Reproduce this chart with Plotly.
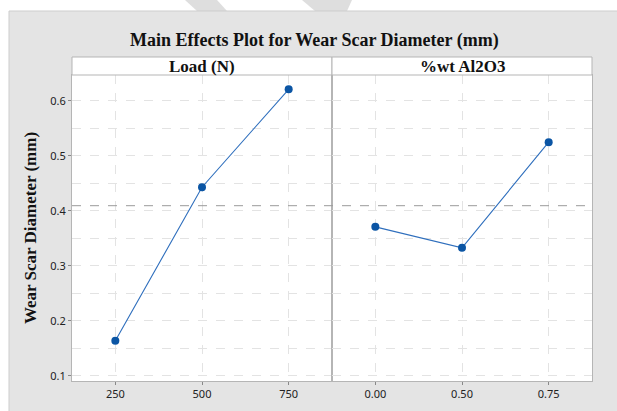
import numpy as np
import plotly.graph_objects as go
from plotly.subplots import make_subplots

# ---- data ----
load_levels = ["250", "500", "750"]
load_means = [0.164, 0.443, 0.621]
wt_levels = ["0.00", "0.50", "0.75"]
wt_means = [0.371, 0.333, 0.525]
y_ticks = [0.1, 0.2, 0.3, 0.4, 0.5, 0.6]
y_ticklabels = ["0.1", "0.2", "0.3", "0.4", "0.5", "0.6"]
panel_titles = ["Load (N)", "%wt Al2O3"]
grand_mean = float(np.mean(load_means + wt_means))

W, H = 617, 411
ML, MR, MT, MB = 72, 25, 75, 30
PW, PH = W - ML - MR, H - MT - MB

def px_x(px):
    return (px - ML) / PW

def px_y(py):
    return (H - MB - py) / PH

line_col = "#2f6fbd"
mark_col = "#0b55a4"
grid_col = "#e3e3e3"
border_col = "#b5b5b5"
serif = "Liberation Serif"
sans = "Noto Sans"

fig = make_subplots(rows=1, cols=2, shared_yaxes=True, horizontal_spacing=0)

for col, (lv, mv) in enumerate([(load_levels, load_means), (wt_levels, wt_means)], start=1):
    fig.add_trace(go.Scatter(
        x=lv, y=mv, mode="lines+markers",
        line=dict(color=line_col, width=1.1),
        marker=dict(color=mark_col, size=8),
        showlegend=False, hoverinfo="x+y"), row=1, col=col)

for col in (1, 2):
    fig.update_xaxes(type="category", range=[-0.5, 2.5],
                     showgrid=True, gridcolor=grid_col, griddash="dash", gridwidth=1,
                     showline=True, linecolor=border_col, linewidth=1, mirror=True,
                     ticks="outside", ticklen=3, tickcolor="#888888",
                     tickfont=dict(family=sans, size=11, color="#222222"),
                     zeroline=False, fixedrange=True, row=1, col=col)
    fig.update_yaxes(range=[0.0909, 0.647],
                     tickvals=y_ticks, ticktext=y_ticklabels,
                     showgrid=True, gridcolor=grid_col, griddash="dash", gridwidth=1,
                     minor=dict(dtick=0.05, tick0=0.05, showgrid=True, gridcolor=grid_col,
                                griddash="dash", ticks=""),
                     showline=True, linecolor=border_col, linewidth=1, mirror=True,
                     zeroline=False, fixedrange=True, row=1, col=col)

fig.update_yaxes(ticks="outside", ticklen=3, tickcolor="#888888",
                 tickfont=dict(family=sans, size=11, color="#222222"),
                 title=dict(text="<b>Wear Scar Diameter (mm)</b>",
                            font=dict(family=serif, size=17, color="#111111"),
                            standoff=9),
                 row=1, col=1)
fig.update_yaxes(ticks="", showticklabels=False, row=1, col=2)

shapes = []
# white area above/left of gray panel
shapes.append(dict(type="rect", xref="paper", yref="paper",
                   x0=px_x(0), x1=px_x(W), y0=px_y(11), y1=px_y(0),
                   fillcolor="white", line=dict(width=0), layer="below"))
shapes.append(dict(type="rect", xref="paper", yref="paper",
                   x0=px_x(0), x1=px_x(9), y0=px_y(H), y1=px_y(0),
                   fillcolor="white", line=dict(width=0), layer="below"))
# watermark fragments
shapes.append(dict(type="path", xref="paper", yref="paper",
                   path=f"M {px_x(185)},{px_y(0)} L {px_x(217)},{px_y(0)} L {px_x(227)},{px_y(11)} L {px_x(197)},{px_y(11)} Z",
                   fillcolor="#dedede", line=dict(width=0), layer="below"))
shapes.append(dict(type="path", xref="paper", yref="paper",
                   path=f"M {px_x(302)},{px_y(0)} L {px_x(352)},{px_y(0)} L {px_x(347)},{px_y(11)} L {px_x(315)},{px_y(11)} Z",
                   fillcolor="#dedede", line=dict(width=0), layer="below"))
# gray panel edges
shapes.append(dict(type="line", xref="paper", yref="paper",
                   x0=px_x(9), x1=px_x(W), y0=px_y(11), y1=px_y(11),
                   line=dict(color="#cdcdcd", width=1), layer="below"))
shapes.append(dict(type="line", xref="paper", yref="paper",
                   x0=px_x(9), x1=px_x(9), y0=px_y(11), y1=px_y(H),
                   line=dict(color="#cdcdcd", width=1), layer="below"))
# strip headers
for i, t in enumerate(panel_titles):
    shapes.append(dict(type="rect", xref="paper", yref="paper",
                       x0=i * 0.5, x1=(i + 1) * 0.5, y0=1, y1=px_y(57),
                       fillcolor="white", line=dict(color=border_col, width=1)))
# grand mean reference line
shapes.append(dict(type="line", xref="paper", yref="y",
                   x0=0, x1=1, y0=grand_mean, y1=grand_mean,
                   line=dict(color="#9a9a9a", width=1, dash="dash"), layer="above"))

annotations = []
for i, t in enumerate(panel_titles):
    annotations.append(dict(text=f"<b>{t}</b>", xref="paper", yref="paper",
                            x=i * 0.5 + 0.25, y=(1 + px_y(57)) / 2,
                            xanchor="center", yanchor="middle", showarrow=False,
                            font=dict(family=serif, size=17, color="#111111")))
annotations.append(dict(text="<b>Main Effects Plot for Wear Scar Diameter (mm)</b>",
                        xref="paper", yref="paper", x=px_x(314), y=px_y(41),
                        xanchor="center", yanchor="middle", showarrow=False,
                        font=dict(family=serif, size=18, color="#111111")))

fig.update_layout(width=W, height=H,
                  margin=dict(l=ML, r=MR, t=MT, b=MB, autoexpand=False),
                  paper_bgcolor="#e4e4e4", plot_bgcolor="white",
                  shapes=shapes, annotations=annotations,
                  font=dict(family=sans))

fig.write_html("out.html", config={"displayModeBar": False},
               post_script="document.body.style.margin='0px';document.body.style.padding='0px';")
